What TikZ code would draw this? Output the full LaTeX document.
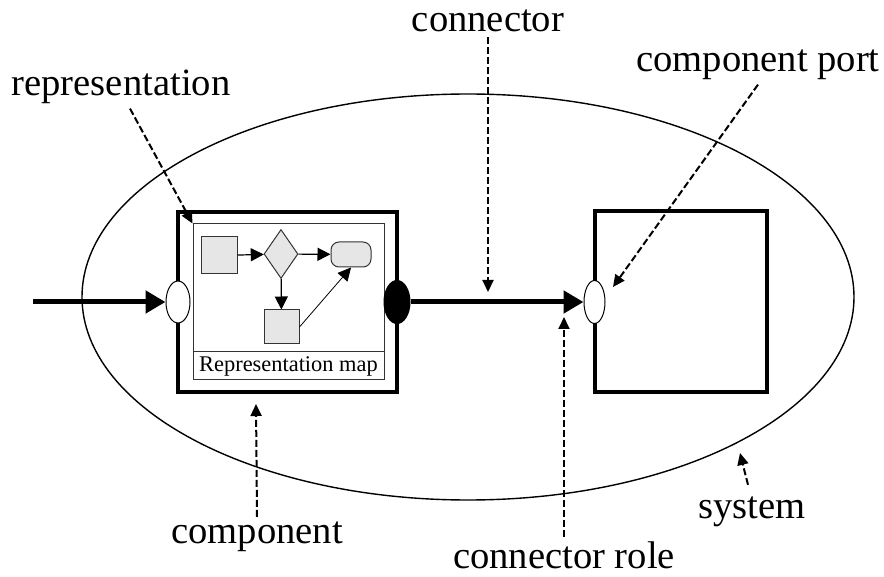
\documentclass[tikz,border=0pt]{standalone}
\usepackage{fontspec}
\setmainfont{Liberation Serif}
\usetikzlibrary{arrows.meta,positioning,shapes.geometric}
\definecolor{shapefill}{HTML}{E6E6E6}
\definecolor{mapline}{HTML}{333333}

\begin{document}
\begin{tikzpicture}[x=0.5pt,y=-0.5pt,
  lbl/.style={font=\fontsize{19.3}{23}\selectfont,inner sep=2pt,anchor=base},
  box/.style={draw,line width=2pt,inner sep=0pt},
  port/.style={draw,ellipse,line width=0.5pt,fill=white,inner sep=0pt},
  part/.style={draw=mapline,fill=shapefill,line width=0.5pt,inner sep=0pt},
  flow/.style={line width=0.6pt,-{Triangle[length=6.5pt,width=6.5pt]}},
  link/.style={line width=2.5pt,-{Triangle[length=10pt,width=11pt]}},
  callout/.style={line width=1pt,dash pattern=on 3.5pt off 1.5pt,-{Triangle[length=6pt,width=5.5pt]}}]
  \useasboundingbox (0,0) rectangle (884,577);
  \node[draw,ellipse,line width=0.7pt,minimum width=386pt,minimum height=203pt] (sys) at (468,297) {};
  \node[box,minimum width=109.5pt,minimum height=90pt] (comp) at (287.5,302) {};
  \node[box,minimum width=86pt,minimum height=90.5pt] (comp2) at (681,301.5) {};
  \node[draw=mapline,line width=0.5pt,minimum width=95.5pt,minimum height=64pt,inner sep=0pt] (rep) at (288.5,288) {};
  \node[draw=mapline,line width=0.5pt,minimum width=95.5pt,minimum height=14pt,inner sep=0pt,font=\fontsize{11.2}{13}\selectfont] (map) at (288.5,366) {Representation map};
  \node[part,minimum width=18pt,minimum height=18.5pt] (sq1) at (219,255.5) {};
  \node[part,diamond,minimum width=17pt,minimum height=24.5pt] (dec) at (281,254) {};
  \node[part,rounded corners=4pt,minimum width=20pt,minimum height=12.5pt] (term) at (351,254.5) {};
  \node[part,minimum width=17.5pt,minimum height=17pt] (sq2) at (281.5,327) {};
  \node[port,minimum width=12pt,minimum height=21pt] (pin) at (178,302) {};
  \node[port,fill=black,minimum width=13pt,minimum height=21.5pt] (pout) at (397,302) {};
  \node[port,minimum width=10.5pt,minimum height=21.5pt] (prt) at (594.5,302) {};
  \coordinate (src) at (33,302);
  \draw[link] (src) -- (pin.west);
  \draw[link] (pout.east) -- (prt.west);
  \draw[flow] (sq1) -- (dec);
  \draw[flow] (dec) -- (term);
  \draw[flow] (dec) -- (sq2);
  \draw[flow,line width=0.4pt] (sq2.east) -- (term.south);
  \node[lbl] (lrep) at (121,96) {representation};
  \node[lbl] (lcon) at (488,32) {connector};
  \node[lbl] (lport) at (758,72) {component port};
  \node[lbl] (lcomp) at (257,543) {component};
  \node[lbl] (lrole) at (564,568) {connector role};
  \node[lbl] (lsys) at (752,518) {system};
  \coordinate (contip) at (488,292);
  \coordinate (roletip) at (564,317);
  \coordinate (porttip) at (613,287);
  \coordinate (comptip) at (256,404);
  \coordinate (systip) at (740,453);
  \draw[callout] ([xshift=4.5pt]lrep.south) -- (rep.north west);
  \draw[callout] (lcon.south) -- (contip);
  \draw[callout] (lport.south) -- (porttip);
  \draw[callout] (lcomp.north) -- (comptip);
  \draw[callout] (lrole.north) -- (roletip);
  \draw[callout] ([xshift=-2pt,yshift=3.5pt]lsys.north) -- (systip);
\end{tikzpicture}
\end{document}
